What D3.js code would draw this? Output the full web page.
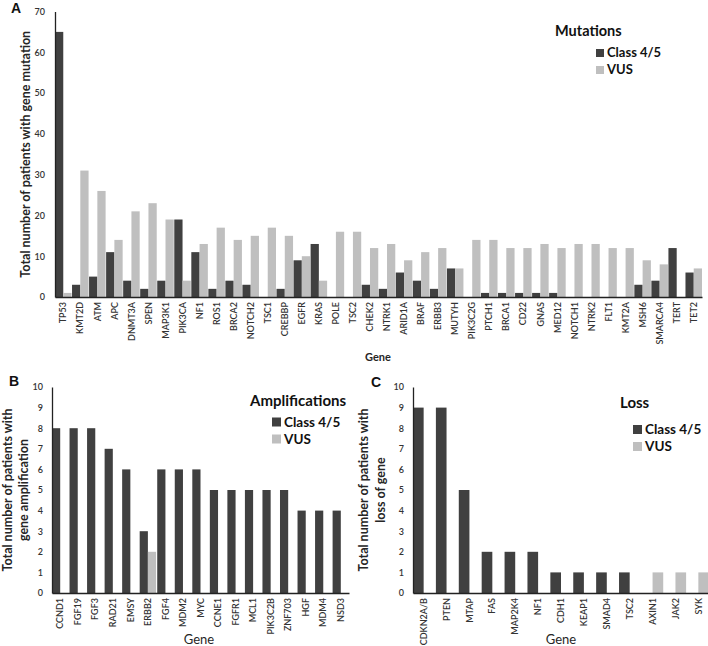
<!DOCTYPE html>
<html>
<head>
<meta charset="utf-8">
<script src="https://cdn.jsdelivr.net/npm/d3@7"></script>
<style>
  body { margin: 0; background: #fff; }
  svg { display: block; font-family: Lato, "Open Sans", "Liberation Sans", sans-serif; }
</style>
</head>
<body>
<svg id="chart" width="708" height="646"></svg>
<script>
// ---------- DATA ----------
const seriesNames = ["Class 4/5", "VUS"];

const mutGenes = ["TP53","KMT2D","ATM","APC","DNMT3A","SPEN","MAP3K1","PIK3CA","NF1","ROS1","BRCA2","NOTCH2","TSC1","CREBBP","EGFR","KRAS","POLE","TSC2","CHEK2","NTRK1","ARID1A","BRAF","ERBB3","MUTYH","PIK3C2G","PTCH1","BRCA1","CD22","GNAS","MED12","NOTCH1","NTRK2","FLT1","KMT2A","MSH6","SMARCA4","TERT","TET2"];
const mutClass45 = [65,3,5,11,4,2,4,19,11,2,4,3,0,2,9,13,0,0,3,2,6,4,2,7,0,1,1,1,1,1,0,0,0,0,3,4,12,6];
const mutVUS     = [1,31,26,14,21,23,19,4,13,17,14,15,17,15,10,4,16,16,12,13,9,11,12,7,14,14,12,12,13,12,13,13,12,12,9,8,0,7];
const mutTicks = [0,10,20,30,40,50,60,70];

const ampGenes = ["CCND1","FGF19","FGF3","RAD21","EMSY","ERBB2","FGF4","MDM2","MYC","CCNE1","FGFR1","MCL1","PIK3C2B","ZNF703","HGF","MDM4","NSD3"];
const ampClass45 = [8,8,8,7,6,3,6,6,6,5,5,5,5,5,4,4,4];
const ampVUS     = [0,0,0,0,0,2,0,0,0,0,0,0,0,0,0,0,0];
const ampTicks = [0,1,2,3,4,5,6,7,8,9,10];

const lossGenes = ["CDKN2A/B","PTEN","MTAP","FAS","MAP2K4","NF1","CDH1","KEAP1","SMAD4","TSC2","AXIN1","JAK2","SYK"];
const lossClass45 = [9,9,5,2,2,2,1,1,1,1,0,0,0];
const lossVUS     = [0,0,0,0,0,0,0,0,0,0,1,1,1];
const lossTicks = [0,1,2,3,4,5,6,7,8,9,10];

// ---------- STYLE ----------
const colors = {"Class 4/5": "#404040", "VUS": "#bfbfbf"};
const textCol = "#262626";
const svg = d3.select("#chart");

function panel(cfg) {
  const g = svg.append("g");
  const rows = cfg.genes.map((gname, i) => ({gene: gname, "Class 4/5": cfg.c45[i], "VUS": cfg.vus[i]}));
  const x = d3.scaleBand().domain(cfg.genes).range([cfg.x0, cfg.x1]).paddingInner(cfg.pad).paddingOuter(0);
  const xs = d3.scaleBand().domain(seriesNames).range([0, x.bandwidth()]);
  const y = d3.scaleLinear().domain([0, cfg.ymax]).range([cfg.y0, cfg.y1]);

  // bars
  g.append("g").selectAll("g").data(rows).join("g")
    .attr("transform", d => `translate(${x(d.gene)},0)`)
    .selectAll("rect")
    .data(d => seriesNames.map(s => ({s, v: d[s]})).filter(e => e.v > 0))
    .join("rect")
    .attr("x", e => xs(e.s))
    .attr("width", xs.bandwidth())
    .attr("y", e => y(e.v))
    .attr("height", e => y(0) - y(e.v))
    .attr("fill", e => colors[e.s]);

  // y axis
  const ya = g.append("g").attr("transform", `translate(${cfg.x0},0)`)
    .call(d3.axisLeft(y).tickValues(cfg.ticks).tickSize(0).tickPadding(cfg.tickPadY));
  ya.select(".domain").attr("stroke", "#222").attr("stroke-width", 1.3);
  ya.selectAll("text").attr("font-size", cfg.tickFs).attr("font-weight", 600).attr("fill", "#333")
    .attr("font-family", "Lato, sans-serif");

  // x axis
  const xa = g.append("g").attr("transform", `translate(0,${cfg.y0})`)
    .call(d3.axisBottom(x).tickSize(0).tickSizeOuter(0));
  xa.select(".domain").attr("stroke", "#222").attr("stroke-width", 1.3);
  xa.selectAll("text")
    .attr("font-size", cfg.xFs).attr("font-weight", 600).attr("fill", "#333")
    .attr("font-family", "Lato, sans-serif")
    .attr("transform", "rotate(-90)")
    .attr("text-anchor", "end")
    .attr("x", -cfg.xLabOff).attr("y", 0).attr("dy", "0.35em");

  // axis titles
  const yt = g.append("text")
    .attr("transform", `translate(${cfg.yTitleX},${(cfg.y0 + cfg.y1) / 2}) rotate(-90)`)
    .attr("text-anchor", "middle").attr("font-size", cfg.yTitleFs).attr("font-weight", 700)
    .attr("fill", textCol);
  cfg.yTitle.forEach((line, i) => {
    yt.append("tspan").attr("x", 0).attr("dy", i === 0 ? 0 : cfg.yTitleLh).text(line);
  });
  g.append("text").attr("x", cfg.geneX).attr("y", cfg.geneY).attr("text-anchor", "middle")
    .attr("font-size", cfg.geneFs).attr("font-weight", cfg.geneW).attr("fill", textCol).text("Gene");

  // panel letter
  g.append("text").attr("x", cfg.letterX).attr("y", cfg.letterY).attr("font-size", 14)
    .attr("font-weight", 700).attr("fill", "#111")
    .attr("font-family", "'Liberation Sans', Arial, sans-serif").text(cfg.letter);

  // legend
  const L = cfg.legend;
  g.append("text").attr("x", L.titleX).attr("y", L.titleY).attr("font-size", L.titleFs)
    .attr("font-weight", 700).attr("fill", "#111").text(L.title);
  seriesNames.forEach((s, i) => {
    const yy = L.itemY + i * L.itemGap;
    g.append("rect").attr("x", L.itemX).attr("y", yy - L.sq).attr("width", L.sq).attr("height", L.sq)
      .attr("fill", colors[s]);
    g.append("text").attr("x", L.itemX + L.sq + 3).attr("y", yy).attr("font-size", L.itemFs)
      .attr("font-weight", 700).attr("fill", "#111").text(s);
  });
}

panel({
  genes: mutGenes, c45: mutClass45, vus: mutVUS, ticks: mutTicks, ymax: 70,
  x0: 55, x1: 702, y0: 297, y1: 11.5, pad: 0.03,
  tickFs: 9, tickPadY: 10, xFs: 9, xLabOff: 5,
  yTitle: ["Total number of patients with  gene mutation"], yTitleX: 30, yTitleFs: 12.5, yTitleLh: 0,
  geneX: 378, geneY: 361, geneFs: 11, geneW: 700,
  letter: "A", letterX: 11, letterY: 13,
  legend: {title: "Mutations", titleX: 555, titleY: 36, titleFs: 14.5, itemX: 596, itemY: 57, itemGap: 17, sq: 8, itemFs: 13}
});

panel({
  genes: ampGenes, c45: ampClass45, vus: ampVUS, ticks: ampTicks, ymax: 10,
  x0: 52, x1: 349, y0: 593, y1: 387, pad: 0.065,
  tickFs: 9, tickPadY: 9, xFs: 9, xLabOff: 5,
  yTitle: ["Total number of patients with", "gene amplification"], yTitleX: 12, yTitleFs: 12.5, yTitleLh: 16,
  geneX: 199, geneY: 644, geneFs: 13, geneW: 400,
  letter: "B", letterX: 9, letterY: 386,
  legend: {title: "Amplifications", titleX: 250, titleY: 406, titleFs: 15, itemX: 272, itemY: 426.5, itemGap: 17, sq: 9, itemFs: 13.5}
});

panel({
  genes: lossGenes, c45: lossClass45, vus: lossVUS, ticks: lossTicks, ymax: 10,
  x0: 413, x1: 709, y0: 593, y1: 387, pad: 0.07,
  tickFs: 9, tickPadY: 9, xFs: 9, xLabOff: 5,
  yTitle: ["Total number of patients with", "loss of gene"], yTitleX: 368, yTitleFs: 12.5, yTitleLh: 17,
  geneX: 561, geneY: 644, geneFs: 13, geneW: 400,
  letter: "C", letterX: 371, letterY: 387,
  legend: {title: "Loss", titleX: 620, titleY: 408, titleFs: 15, itemX: 633, itemY: 434, itemGap: 17, sq: 9, itemFs: 13.5}
});
</script>
</body>
</html>
